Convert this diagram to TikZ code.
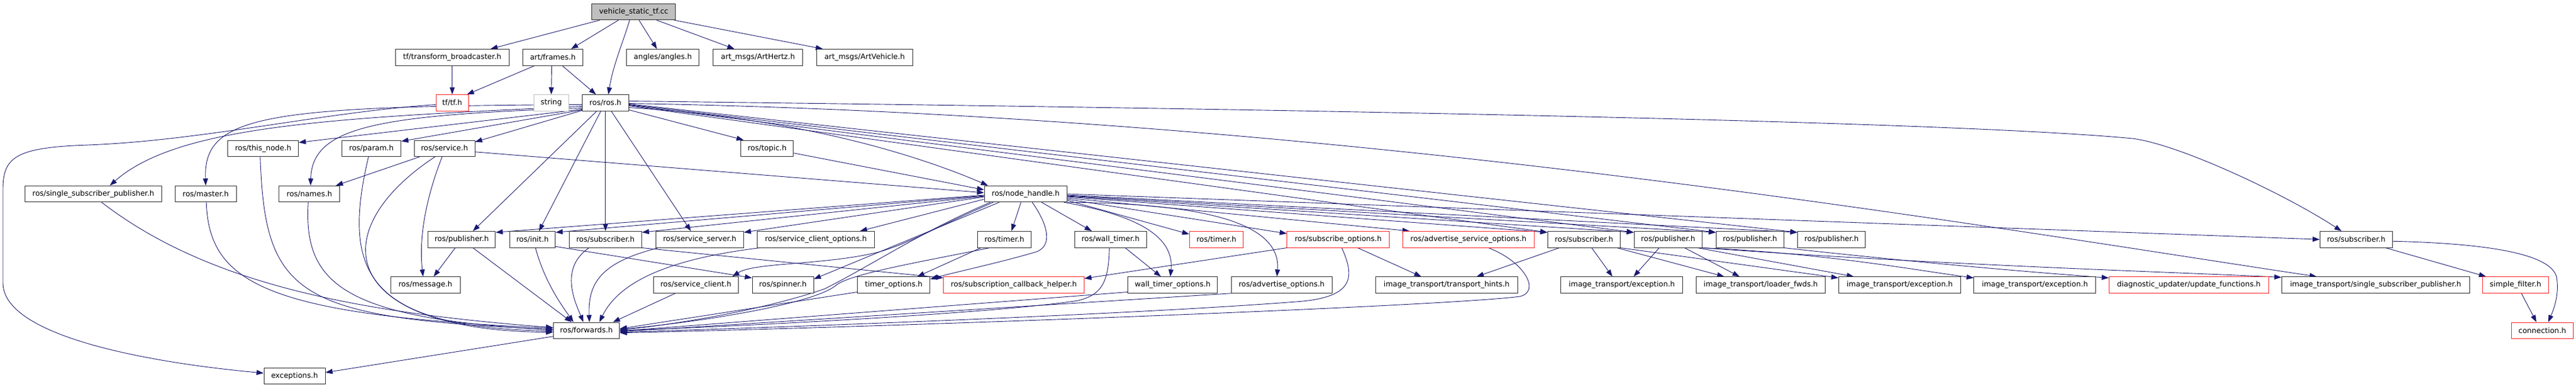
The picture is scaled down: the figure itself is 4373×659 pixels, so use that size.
\documentclass[tikz,border=0pt]{standalone}
\usepackage{fontspec}
\setmainfont{DejaVu Sans}
\usetikzlibrary{arrows.meta}
\definecolor{edgec}{HTML}{191970}
\definecolor{boxc}{HTML}{2B2B2B}
\definecolor{redc}{HTML}{FF2020}
\pgfdeclarelayer{edges}
\pgfsetlayers{edges,main}
\begin{document}
\begin{tikzpicture}[x=1pt,y=-1pt,
  box/.style={draw=boxc,line width=1pt,fill=white,minimum height=27.5pt,inner sep=0pt,font=\fontsize{12.5}{15}\selectfont,text=black},
  rbox/.style={box,draw=redc},
  edg/.style={draw=edgec,line width=0.9pt,-{Triangle[length=12pt,width=8.5pt]}}]
\useasboundingbox (0,0) rectangle (4373,659);
% row 0
\node[box,fill=black!25,minimum width=141.7pt] (vst) at (1075.8,20) {vehicle\_static\_tf.cc};
% row 1
\node[box,minimum width=193.3pt] (tfb) at (767.7,97.25) {tf/transform\_broadcaster.h};
\node[box,minimum width=101.6pt] (frames) at (938.5,97.25) {art/frames.h};
\node[box,minimum width=123pt] (angles) at (1125.2,97.25) {angles/angles.h};
\node[box,minimum width=152pt] (hertz) at (1286.7,97.25) {art\_msgs/ArtHertz.h};
\node[box,minimum width=163pt] (artveh) at (1467.8,97.25) {art\_msgs/ArtVehicle.h};
% row 2
\node[rbox,minimum width=55.3pt] (tf) at (767.7,174.5) {tf/tf.h};
\node[box,draw=black!25,minimum width=59pt] (string) at (935.8,174.5) {string};
\node[box,minimum width=79pt] (ros) at (1027.8,174.5) {ros/ros.h};
% row 3
\node[box,minimum width=120pt] (thisnode) at (446.7,251.75) {ros/this\_node.h};
\node[box,minimum width=100.4pt] (param) at (630.5,251.75) {ros/param.h};
\node[box,minimum width=103pt] (service) at (754.5,251.75) {ros/service.h};
\node[box,minimum width=89.3pt] (topic) at (1302.3,251.75) {ros/topic.h};
% row 4
\node[box,minimum width=232.4pt] (ssp) at (158.5,329) {ros/single\_subscriber\_publisher.h};
\node[box,minimum width=103.7pt] (master) at (349.2,329) {ros/master.h};
\node[box,minimum width=103pt] (names) at (525.2,329) {ros/names.h};
\node[box,minimum width=140.3pt] (nh) at (1741.2,329) {ros/node\_handle.h};
% row 5
\node[box,minimum width=114.3pt] (pubL) at (783.8,406.25) {ros/publisher.h};
\node[box,minimum width=77.4pt] (init) at (904,406.25) {ros/init.h};
\node[box,minimum width=123pt] (subL) at (1027.8,406.25) {ros/subscriber.h};
\node[box,minimum width=149pt] (srvsrv) at (1187.8,406.25) {ros/service\_server.h};
\node[box,minimum width=198.6pt] (sco) at (1385,406.25) {ros/service\_client\_options.h};
\node[box,minimum width=91.4pt] (timerB) at (1705,406.25) {ros/timer.h};
\node[box,minimum width=121.7pt] (wtimer) at (1885.2,406.25) {ros/wall\_timer.h};
\node[rbox,minimum width=91.4pt] (timerR) at (2065,406.25) {ros/timer.h};
\node[rbox,minimum width=173.7pt] (subopt) at (2271.8,406.25) {ros/subscribe\_options.h};
\node[rbox,minimum width=223pt] (aso) at (2492.8,406.25) {ros/advertise\_service\_options.h};
\node[box,minimum width=123.4pt] (S1) at (2689,406.25) {ros/subscriber.h};
\node[box,minimum width=115.3pt] (P1) at (2831.7,406.25) {ros/publisher.h};
\node[box,minimum width=114.7pt] (P2) at (2970.7,406.25) {ros/publisher.h};
\node[box,minimum width=115pt] (P3) at (3109.2,406.25) {ros/publisher.h};
\node[box,minimum width=123pt] (subR) at (3999.8,406.25) {ros/subscriber.h};
% row 6
\node[box,minimum width=117.7pt] (msg) at (722.2,483.5) {ros/message.h};
\node[box,minimum width=144pt] (srvcli) at (1181.3,483.5) {ros/service\_client.h};
\node[box,minimum width=104pt] (spinner) at (1329,483.5) {ros/spinner.h};
\node[box,minimum width=123pt] (topt) at (1517.2,483.5) {timer\_options.h};
\node[rbox,minimum width=238.6pt] (sch) at (1721,483.5) {ros/subscription\_callback\_helper.h};
\node[box,minimum width=152pt] (wtopt) at (1990.7,483.5) {wall\_timer\_options.h};
\node[box,minimum width=170.7pt] (advopt) at (2175.7,483.5) {ros/advertise\_options.h};
\node[box,minimum width=241.3pt] (th) at (2455.7,483.5) {image\_transport/transport\_hints.h};
\node[box,minimum width=207pt] (ex1) at (2753.2,483.5) {image\_transport/exception.h};
\node[box,minimum width=218.6pt] (lf) at (2989,483.5) {image\_transport/loader\_fwds.h};
\node[box,minimum width=207.4pt] (ex2) at (3225,483.5) {image\_transport/exception.h};
\node[box,minimum width=206.7pt] (ex3) at (3454.3,483.5) {image\_transport/exception.h};
\node[rbox,minimum width=270.7pt] (diag) at (3715.7,483.5) {diagnostic\_updater/update\_functions.h};
\node[box,minimum width=319pt] (itssp) at (4032.8,483.5) {image\_transport/single\_subscriber\_publisher.h};
\node[rbox,minimum width=111.3pt] (sf) at (4270.3,483.5) {simple\_filter.h};
% row 7
\node[box,minimum width=112.4pt] (fwd) at (995.5,560.75) {ros/forwards.h};
\node[rbox,minimum width=104.3pt] (conn) at (4315.8,560.75) {connection.h};
% row 8
\node[box,minimum width=104pt] (exc) at (500,638) {exceptions.h};

\begin{pgfonlayer}{edges}
\fill[white] (0,0) rectangle (4373,659);
% row 0
\draw[edg] ([xshift=-58pt]vst.south) -- ([xshift=65pt]tfb.north);
\draw[edg] ([xshift=-26pt]vst.south) -- ([xshift=31pt]frames.north);
\draw[edg] ([xshift=-7pt]vst.south) .. controls +(-12,40) and +(8,-50) .. ([xshift=5pt]ros.north);
\draw[edg] ([xshift=9pt]vst.south) -- ([xshift=-10pt]angles.north);
\draw[edg] ([xshift=39pt]vst.south) -- ([xshift=-40pt]hertz.north);
\draw[edg] ([xshift=69pt]vst.south) -- ([xshift=-71pt]artveh.north);
% row 1
\draw[edg] (tfb.south) -- (tf.north);
\draw[edg] ([xshift=-31pt]frames.south) -- ([xshift=25pt]tf.north);
\draw[edg] ([xshift=-2pt]frames.south) -- (string.north);
\draw[edg] ([xshift=16pt]frames.south) -- ([xshift=-16pt]ros.north);
% ros to the left
\draw[edg] ([yshift=-11pt]ros.west) -- ([yshift=10pt]thisnode.east);
\draw[edg] ([yshift=-12pt]ros.west) -- ([yshift=12pt]param.east);
\draw[edg] ([yshift=-13pt]ros.west) -- ([yshift=11pt]service.east);
\draw[edg] ([yshift=-9pt]ros.west) .. controls (640,195) and (530,215) .. ([xshift=2pt]names.north);
\draw[edg] ([yshift=-6pt]ros.west) .. controls (550,200) and (300,215) .. ([xshift=28pt]ssp.north);
\draw[edg] ([yshift=-3pt]ros.west) .. controls (450,180) and (345,195) .. (master.north);
\draw[edg] ([yshift=-3pt]tf.west) .. controls (550,190) and (350,238) .. (150,246) .. controls (30,250) and (5,265) .. (5,320) -- (5,480) .. controls (5,570) and (250,615) .. ([yshift=5pt]exc.west);
% ros downwards
\draw[edg] ([xshift=-15pt]ros.south) -- ([xshift=19pt]pubL.north);
\draw[edg] ([xshift=-8pt]ros.south) -- ([xshift=11pt]init.north);
\draw[edg] (ros.south) -- (subL.north);
\draw[edg] ([xshift=10pt]ros.south) -- ([xshift=-15pt]srvsrv.north);
% ros to the right
\draw[edg] ([yshift=-12pt]ros.east) -- ([xshift=-40pt]topic.north);
\draw[edg] ([yshift=-8pt]ros.east) .. controls (1350,200) and (1550,260) .. ([xshift=-64pt]nh.north);
\draw[edg] ([yshift=3pt]ros.east) .. controls (2200,185) and (3300,205) .. (3620,235) .. controls (3700,245) and (3880,330) .. ([xshift=-25pt]subR.north);
\draw[edg] ([yshift=-5pt]ros.east) -- ([yshift=12pt]S1.west);
\draw[edg] ([yshift=-4pt]ros.east) -- ([yshift=12pt]P1.west);
\draw[edg] ([yshift=-3pt]ros.east) -- ([yshift=12pt]P2.west);
\draw[edg] ([yshift=-2pt]ros.east) -- ([yshift=12pt]P3.west);
\draw[edg] ([yshift=-1pt]ros.east) .. controls +(1200,20) and +(-600,-90) .. ([xshift=-100pt]itssp.north);
% into node_handle
\draw[edg] ([yshift=-8pt]topic.east) -- ([yshift=7pt]nh.west);
\draw[edg] ([yshift=-6pt]service.east) -- ([yshift=2pt]nh.west);
% node_handle to the right
\draw[edg] ([yshift=-11pt]nh.east) -- ([yshift=9pt]timerR.west);
\draw[edg] ([yshift=-9pt]nh.east) -- ([yshift=10pt]subopt.west);
\draw[edg] ([yshift=-7pt]nh.east) -- ([xshift=-100pt]aso.north);
\draw[edg] ([yshift=-5pt]nh.east) -- ([yshift=12pt]S1.west);
\draw[edg] ([yshift=-4pt]nh.east) -- ([yshift=12pt]P1.west);
\draw[edg] ([yshift=-3pt]nh.east) -- ([yshift=12pt]P2.west);
\draw[edg] ([yshift=-2pt]nh.east) -- ([yshift=12pt]P3.west);
\draw[edg] (nh.east) -- (subR.west);
% node_handle downwards
\draw[edg] (nh.south east) .. controls (2050,345) and (2175,380) .. ([xshift=-8pt]advopt.north);
\draw[edg] ([xshift=65pt]nh.south) .. controls (1900,360) and (1995,390) .. ([xshift=-4pt]wtopt.north);
\draw[edg] ([xshift=27pt]nh.south) -- ([xshift=-32pt]wtimer.north);
\draw[edg] ([xshift=-8pt]nh.south) -- ([xshift=12pt]timerB.north);
\draw[edg] ([xshift=11pt]nh.south) .. controls (1775,375) and (1790,415) .. (1760,427) .. controls (1700,445) and (1620,462) .. ([yshift=10pt]topt.east);
% node_handle to the left
\draw[edg] ([yshift=-2pt]nh.west) -- ([yshift=12pt]pubL.east);
\draw[edg] ([yshift=-3pt]nh.west) -- ([yshift=12pt]init.east);
\draw[edg] ([yshift=-4pt]nh.west) -- ([yshift=12pt]subL.east);
\draw[edg] ([yshift=-5pt]nh.west) -- ([yshift=12pt]srvsrv.east);
\draw[edg] ([yshift=-9pt]nh.west) -- ([xshift=75pt]sco.north);
\draw[edg] ([xshift=-55pt]nh.south) .. controls (1600,380) and (1540,415) .. (1490,428) .. controls (1400,450) and (1280,445) .. ([xshift=62pt]srvcli.north);
\draw[edg] ([xshift=-45pt]nh.south) -- ([yshift=10pt]spinner.east);
\draw[edg] ([xshift=-60pt]nh.south) .. controls (1560,395) and (1480,450) .. (1400,490) .. controls (1300,525) and (1150,550) .. ([yshift=1pt]fwd.east);
\draw[edg] ([yshift=-12pt]init.east) -- ([yshift=12pt]spinner.west);
\draw[edg] (subL.south east) -- ([yshift=12pt]sch.west);
% timers and options
\draw[edg] ([xshift=-40pt]timerB.south) -- ([xshift=40pt]topt.north);
\draw[edg] ([xshift=-25pt]timerB.south) .. controls (1560,445) and (1440,465) .. (1418,485) .. controls (1380,515) and (1200,545) .. ([yshift=2pt]fwd.east);
\draw[edg] ([xshift=25pt]wtimer.south) -- ([xshift=-20pt]wtopt.north);
\draw[edg] ([xshift=-2pt]wtimer.south) .. controls (1882,480) and (1870,500) .. (1830,510) .. controls (1700,530) and (1300,552) .. (fwd.east);
\draw[edg] ([yshift=-12pt]wtopt.west) -- ([yshift=-1pt]fwd.east);
\draw[edg] ([yshift=-12pt]topt.west) -- ([yshift=3pt]fwd.east);
\draw[edg] (advopt.south west) -- ([yshift=-2pt]fwd.east);
\draw[edg] ([xshift=6pt]subopt.south) .. controls (2300,470) and (2300,505) .. (2200,512) .. controls (1900,535) and (1300,556) .. ([yshift=-3pt]fwd.east);
\draw[edg] ([xshift=34pt]aso.south) .. controls (2590,445) and (2615,495) .. (2580,503) .. controls (2450,520) and (1500,555) .. ([yshift=-4pt]fwd.east);
\draw[edg] (subopt.south west) -- ([yshift=11pt]sch.east);
\draw[edg] ([xshift=33pt]subopt.south) -- ([xshift=-43pt]th.north);
% left group into forwards
\draw[edg] ([xshift=14pt]ssp.south) .. controls (350,480) and (600,530) .. ([yshift=5pt]fwd.west);
\draw[edg] ([xshift=1pt]master.south) .. controls (355,480) and (450,535) .. ([yshift=4pt]fwd.west);
\draw[edg] ([xshift=-5pt]thisnode.south) .. controls (450,500) and (500,540) .. ([yshift=2pt]fwd.west);
\draw[edg] ([xshift=-2pt]names.south) .. controls (515,480) and (580,540) .. ([yshift=1pt]fwd.west);
\draw[edg] ([xshift=-5pt]param.south) .. controls (580,460) and (620,555) .. ([yshift=-1pt]fwd.west);
\draw[edg] ([xshift=-16pt]service.south) .. controls (550,390) and (570,560) .. ([yshift=-3pt]fwd.west);
\draw[edg] ([xshift=-42pt]service.south) -- ([xshift=45pt]names.north);
\draw[edg] ([xshift=-4pt]service.south) .. controls +(-25,64) and +(-8,-70) .. ([xshift=-4pt]msg.north);
\draw[edg] ([xshift=-11pt]pubL.south) -- ([xshift=14pt]msg.north);
\draw[edg] ([xshift=19pt]pubL.south) -- ([xshift=-25pt]fwd.north);
\draw[edg] ([xshift=5pt]init.south) .. controls (925,480) and (955,520) .. ([xshift=-22pt]fwd.north);
\draw[edg] ([xshift=-28pt]subL.south) .. controls (950,455) and (975,510) .. ([xshift=-5pt]fwd.north);
\draw[edg] ([xshift=-70pt]srvsrv.south) .. controls (1020,445) and (998,480) .. ([xshift=5pt]fwd.north);
\draw[edg] ([xshift=-35pt]srvcli.south) -- ([xshift=45pt]fwd.north);
\draw[edg] ([xshift=-95pt]sco.south) .. controls (1130,440) and (1050,480) .. ([xshift=22pt]fwd.north);
\draw[edg] ([yshift=-10pt]fwd.west) -- ([yshift=6pt]exc.east);
% right group
\draw[edg] ([xshift=-42pt]S1.south) -- ([xshift=51pt]th.north);
\draw[edg] ([xshift=13pt]S1.south) -- ([xshift=-16pt]ex1.north);
\draw[edg] ([xshift=56pt]S1.south) -- ([xshift=-62pt]lf.north);
\draw[edg] (S1.south east) -- ([yshift=12pt]ex2.west);
\draw[edg] ([xshift=-15pt]P1.south) -- ([xshift=20pt]ex1.north);
\draw[edg] ([xshift=28pt]P1.south) -- ([xshift=-36pt]lf.north);
\draw[edg] ([xshift=50pt]P1.south) -- ([xshift=-78pt]ex2.north);
\draw[edg] (P1.south east) .. controls (3100,430) and (3250,458) .. ([yshift=12pt]ex3.west);
\draw[edg] (P1.south east) .. controls (3300,450) and (3700,462) .. ([yshift=13pt]itssp.west);
\draw[edg] (P2.south east) .. controls (3250,445) and (3450,462) .. ([yshift=12pt]diag.west);
\draw[edg] ([xshift=50pt]subR.south) -- ([xshift=-50pt]sf.north);
\draw[edg] ([yshift=-3pt]subR.east) .. controls (4220,413) and (4330,430) .. (4340,470) .. controls (4345,500) and (4335,525) .. ([xshift=10pt]conn.north);
\draw[edg] ([xshift=10pt]sf.south) -- ([xshift=-10pt]conn.north);
\end{pgfonlayer}
\end{tikzpicture}
\end{document}
